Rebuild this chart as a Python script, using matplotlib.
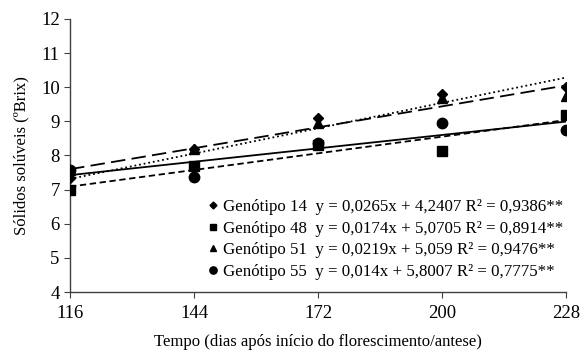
import matplotlib.pyplot as plt

plt.rcParams['font.family'] = ['Liberation Serif', 'DejaVu Serif']

dias = [116, 144, 172, 200, 228]
genotipos = ['Genótipo 14', 'Genótipo 48', 'Genótipo 51', 'Genótipo 55']
g14 = [7.35, 8.2, 9.1, 9.8, 10.0]
g48 = [7.0, 7.7, 8.3, 8.13, 9.18]
g51 = [7.57, 8.2, 8.95, 9.68, 9.75]
g55 = [7.57, 7.36, 8.36, 8.95, 8.75]
inclinacao = [0.0265, 0.0174, 0.0219, 0.014]
intercepto = [4.2407, 5.0705, 5.059, 5.8007]
equacoes = ['y = 0,0265x + 4,2407 R² = 0,9386**',
            'y = 0,0174x + 5,0705 R² = 0,8914**',
            'y = 0,0219x + 5,059 R² = 0,9476**',
            'y = 0,014x + 5,8007 R² = 0,7775**']

series = [g14, g48, g51, g55]
marcadores = ['D', 's', '^', 'o']
tamanhos = [5, 6.5, 7, 7.5]
estilos = [(0, (1, 1.6)), (0, (3.5, 2)), (0, (8, 3.5)), '-']

fig = plt.figure(figsize=(5.84, 3.51), dpi=100)
ax = fig.add_axes([0.12, 0.168, 0.849, 0.778])

for i in range(4):
    xs = [dias[0], dias[-1]]
    ys = [inclinacao[i] * x + intercepto[i] for x in xs]
    ax.plot(xs, ys, color='black', linestyle=estilos[i], linewidth=1.3, zorder=2)
    ax.plot(dias, series[i], linestyle='none', marker=marcadores[i], color='black',
            markersize=tamanhos[i], zorder=3,
            label=genotipos[i] + '  ' + equacoes[i])

ax.set_xlim(116, 228)
ax.set_ylim(4, 12)
ax.set_xticks(dias)
ax.set_yticks(range(4, 13))
ax.spines['top'].set_visible(False)
ax.spines['right'].set_visible(False)
for s in ['left', 'bottom']:
    ax.spines[s].set_color('#404040')
    ax.spines[s].set_linewidth(1.0)
ax.tick_params(axis='both', colors='#404040', labelcolor='black', labelsize=13.5,
               length=4, direction='out')
ax.tick_params(axis='x', pad=5)
ax.set_xlabel('Tempo (dias após início do florescimento/antese)', fontsize=12, labelpad=9)
ax.set_ylabel('Sólidos solúveis (ºBrix)', fontsize=12, labelpad=8)

leg = ax.legend(loc='lower right', bbox_to_anchor=(1.018, 0.0), frameon=False,
                fontsize=12.2, handlelength=0.6, handletextpad=0.3, labelspacing=0.34,
                borderpad=0.2, markerscale=0.7)

fig.savefig('out.png', dpi=100)
